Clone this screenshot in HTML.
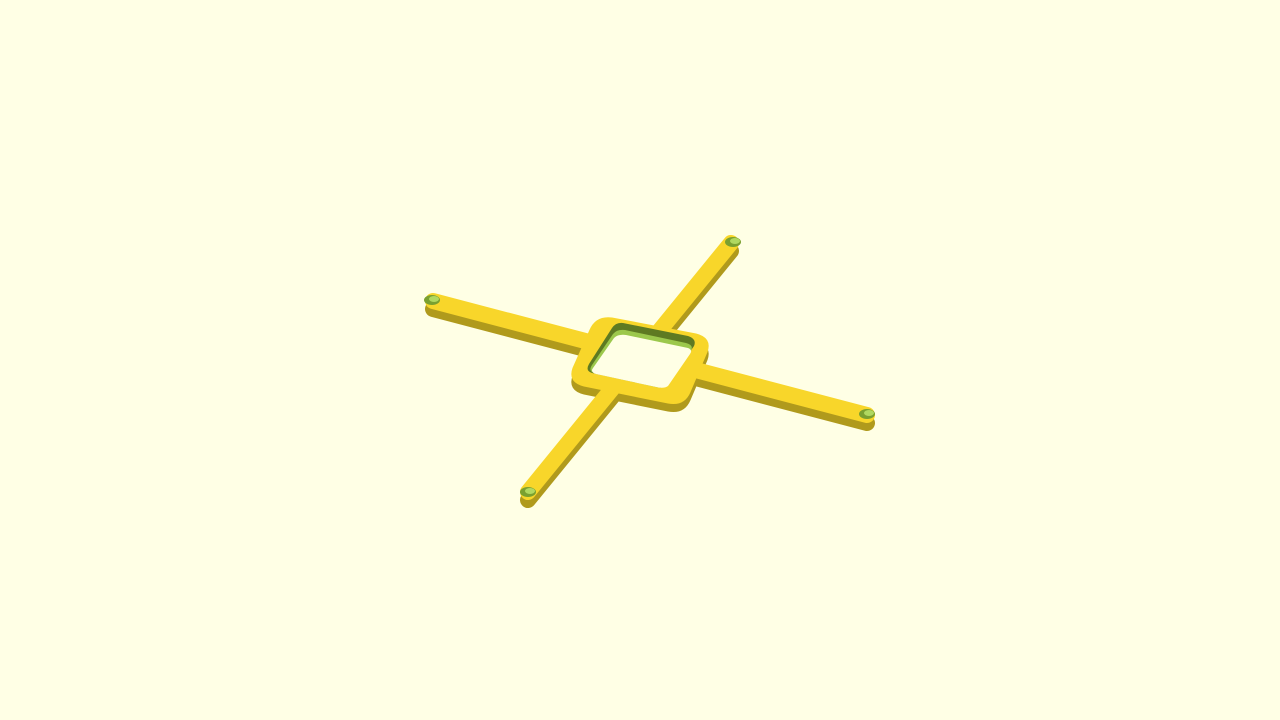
<!DOCTYPE html>
<html><head><meta charset="utf-8"><style>
html,body{margin:0;padding:0;background:#ffffe5;width:1280px;height:720px;overflow:hidden}
svg{display:block}
</style></head><body>
<svg width="1280" height="720" viewBox="0 0 1280 720">
<rect width="1280" height="720" fill="#ffffe5"/>
<g transform="translate(0,8)" stroke="#b09a1c" fill="#b09a1c">
  <line x1="433" y1="301" x2="867" y2="415" stroke-width="16" stroke-linecap="round"/>
  <line x1="731" y1="243" x2="528" y2="492" stroke-width="16" stroke-linecap="round"/>
  <path d="M612 318 L696 334 Q712 338 707 352 L690 392 Q684 406 668 403 L584 386 Q568 382 573 368 L590 330 Q596 316 612 318 Z"/>
</g>
<g stroke="#f8d62a" fill="#f8d62a">
  <line x1="433" y1="301" x2="867" y2="415" stroke-width="16" stroke-linecap="round"/>
  <line x1="731" y1="243" x2="528" y2="492" stroke-width="16" stroke-linecap="round"/>
  <path d="M612 318 L696 334 Q712 338 707 352 L690 392 Q684 406 668 403 L584 386 Q568 382 573 368 L590 330 Q596 316 612 318 Z"/>
</g>
<g>
  <path d="M623 323 L688 336 Q697 339 694 346 L668 384 Q664 389 656 387 L592 373 Q585 371 589 364 L612 328 Q616 322 623 323 Z" fill="#5e7a22"/>
  <path d="M625 330 L686 343 Q694 345 691 351 L668 384 Q664 389 656 387 L594 373 Q588 371 592 365 L613 334 Q617 329 625 330 Z" fill="#9cc84c"/>
  <path d="M626 335 L688 348 Q693 350 690 354 L668 386 Q664 389 656 387 L596 374 Q590 372 593 368 L614 338 Q618 334 626 335 Z" fill="#ffffe5"/>
</g>
<g>
  <ellipse cx="432" cy="300" rx="8" ry="5" fill="#7aa030"/>
  <ellipse cx="733" cy="242" rx="8" ry="5" fill="#7aa030"/>
  <ellipse cx="867" cy="414" rx="8" ry="5" fill="#7aa030"/>
  <ellipse cx="528" cy="492" rx="8" ry="5" fill="#7aa030"/>
  <ellipse cx="434" cy="299" rx="5" ry="3" fill="#b0d860"/>
  <ellipse cx="735" cy="241" rx="5" ry="3" fill="#b0d860"/>
  <ellipse cx="869" cy="413" rx="5" ry="3" fill="#b0d860"/>
  <ellipse cx="530" cy="491" rx="5" ry="3" fill="#b0d860"/>
</g>
</svg>
</body></html>
